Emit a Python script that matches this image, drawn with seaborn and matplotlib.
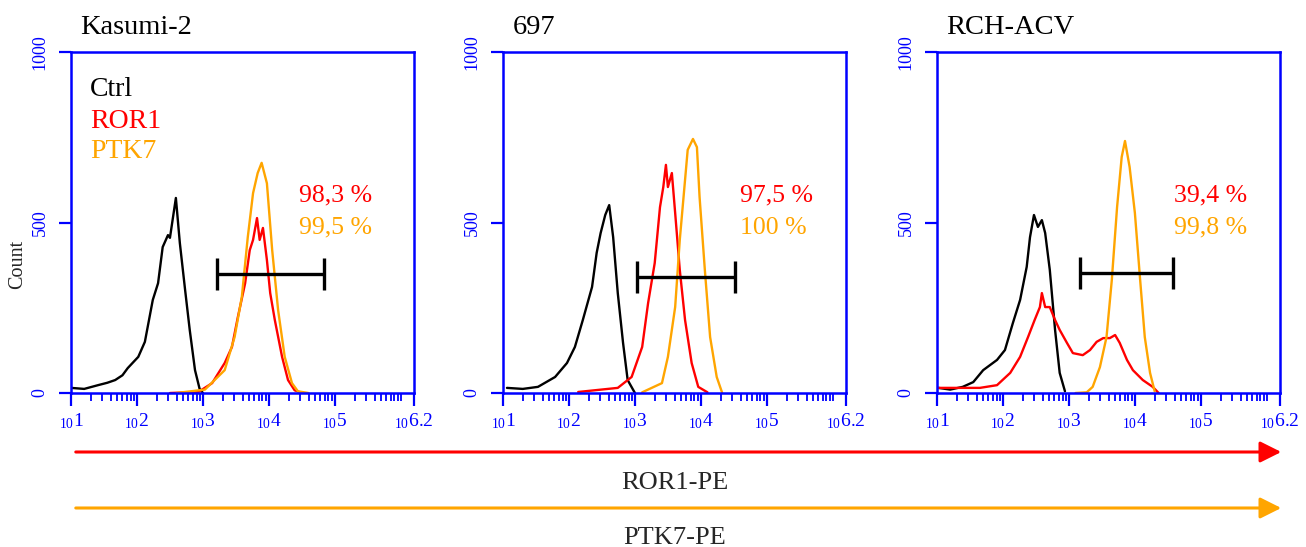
import numpy as np
import pandas as pd
import matplotlib
matplotlib.use("Agg")
import matplotlib.pyplot as plt
import matplotlib.patches as mpatches
import seaborn as sns

# ---------------- data (x as log10 fluorescence, y as count) ----------------
panel_titles = ["Kasumi-2", "697", "RCH-ACV"]
series_names = ["Ctrl", "ROR1", "PTK7"]

# Kasumi-2
k2_ctrl_logx = [1.0, 1.2, 1.41, 1.55, 1.67, 1.78, 1.86, 2.02, 2.12, 2.24, 2.32, 2.39, 2.47, 2.50, 2.55, 2.59, 2.65, 2.73, 2.80, 2.88, 2.95, 3.0]
k2_ctrl_cnt  = [15, 12, 23, 30, 38, 52, 73, 106, 150, 273, 322, 428, 463, 455, 520, 572, 440, 302, 185, 67, 12, 0]
k2_ror1_logx = [2.5, 2.93, 3.14, 3.33, 3.44, 3.53, 3.64, 3.71, 3.76, 3.82, 3.86, 3.91, 3.97, 4.02, 4.09, 4.20, 4.29, 4.39, 4.5]
k2_ror1_cnt  = [0, 3, 29, 88, 135, 223, 322, 419, 449, 513, 449, 484, 390, 293, 214, 106, 38, 8, 0]
k2_ptk7_logx = [2.6, 3.03, 3.33, 3.48, 3.59, 3.68, 3.76, 3.83, 3.89, 3.97, 4.05, 4.14, 4.24, 4.35, 4.44, 4.6]
k2_ptk7_cnt  = [0, 10, 67, 164, 282, 457, 586, 645, 675, 615, 419, 243, 106, 29, 5, 0]

# 697
p697_ctrl_logx = [1.06, 1.3, 1.53, 1.79, 1.97, 2.09, 2.21, 2.35, 2.42, 2.48, 2.55, 2.61, 2.67, 2.74, 2.82, 2.89, 3.0]
p697_ctrl_cnt  = [15, 12, 18, 47, 88, 135, 214, 311, 411, 469, 522, 551, 457, 293, 147, 38, 0]
p697_ror1_logx = [2.14, 2.74, 2.95, 3.11, 3.20, 3.30, 3.38, 3.43, 3.47, 3.50, 3.56, 3.61, 3.68, 3.76, 3.86, 3.96, 4.1]
p697_ror1_cnt  = [3, 15, 47, 135, 264, 381, 545, 604, 669, 604, 645, 528, 361, 214, 88, 18, 2]
p697_ptk7_logx = [3.11, 3.41, 3.50, 3.61, 3.68, 3.76, 3.80, 3.88, 3.94, 3.98, 4.06, 4.14, 4.24, 4.32]
p697_ptk7_cnt  = [2, 29, 106, 252, 449, 625, 713, 745, 721, 575, 361, 164, 47, 2]

# RCH-ACV
rch_ctrl_logx = [1.02, 1.2, 1.39, 1.55, 1.70, 1.91, 2.03, 2.15, 2.26, 2.36, 2.41, 2.47, 2.53, 2.59, 2.64, 2.71, 2.79, 2.86, 2.94]
rch_ctrl_cnt  = [15, 10, 18, 32, 67, 97, 126, 205, 273, 370, 457, 522, 487, 507, 469, 361, 185, 59, 5]
rch_ror1_logx = [1.02, 1.65, 1.91, 2.11, 2.26, 2.38, 2.48, 2.56, 2.59, 2.64, 2.71, 2.79, 2.86, 2.97, 3.06, 3.21, 3.32, 3.42, 3.52, 3.62, 3.70, 3.77, 3.88, 3.97, 4.12, 4.27, 4.36]
rch_ror1_cnt  = [15, 15, 23, 59, 106, 164, 214, 252, 293, 252, 252, 214, 185, 147, 117, 111, 126, 150, 161, 161, 170, 147, 97, 67, 38, 18, 0]
rch_ptk7_logx = [3.1, 3.27, 3.36, 3.47, 3.57, 3.65, 3.73, 3.80, 3.85, 3.92, 4.00, 4.08, 4.15, 4.23, 4.30]
rch_ptk7_cnt  = [0, 2, 18, 76, 164, 331, 545, 692, 739, 663, 528, 331, 164, 59, 5]

# gates (log10 limits, count level) and percentages
gate_lo = [3.21, 3.03, 3.17]
gate_hi = [4.83, 4.52, 4.58]
gate_level = [349, 340, 352]
gate_cap = 47
pct_ror1 = ["98,3 %", "97,5 %", "39,4 %"]
pct_ptk7 = ["99,5 %", "100 %", "99,8 %"]

xtick_exp = [1, 2, 3, 4, 5, 6.2]
ytick_vals = [0, 500, 1000]

panels = [
    [(k2_ctrl_logx, k2_ctrl_cnt), (k2_ror1_logx, k2_ror1_cnt), (k2_ptk7_logx, k2_ptk7_cnt)],
    [(p697_ctrl_logx, p697_ctrl_cnt), (p697_ror1_logx, p697_ror1_cnt), (p697_ptk7_logx, p697_ptk7_cnt)],
    [(rch_ctrl_logx, rch_ctrl_cnt), (rch_ror1_logx, rch_ror1_cnt), (rch_ptk7_logx, rch_ptk7_cnt)],
]

# ---------------- style ----------------
sns.set_theme(style="white")
plt.rcParams["font.family"] = ["Liberation Serif", "DejaVu Serif"]
plt.rcParams["mathtext.fontset"] = "custom"
plt.rcParams["mathtext.rm"] = "Liberation Serif"
plt.rcParams["mathtext.it"] = "Liberation Serif:italic"
plt.rcParams["mathtext.bf"] = "Liberation Serif:bold"

BLUE = "#0000ff"
RED = "#ff0000"
ORANGE = "#ffa500"
colors = {"Ctrl": "black", "ROR1": RED, "PTK7": ORANGE}

fig = plt.figure(figsize=(13.06, 5.47), dpi=100)
W, H = 1306, 547
lefts = [71, 503, 937]
ax_w, top_px, bot_px = 343, 52, 393

for i, left in enumerate(lefts):
    ax = fig.add_axes([left / W, (H - bot_px) / H, ax_w / W, (bot_px - top_px) / H])
    for name, (lx, cnt) in zip(series_names, panels[i]):
        df = pd.DataFrame({"x": np.power(10.0, lx), "count": cnt})
        sns.lineplot(data=df, x="x", y="count", color=colors[name], lw=1.7,
                     ax=ax, sort=False, estimator=None)
    ax.set_xscale("log")
    ax.set_xlim(10 ** xtick_exp[0], 10 ** xtick_exp[-1])
    ax.set_ylim(ytick_vals[0], ytick_vals[-1])
    ax.set_xlabel("")
    ax.set_ylabel("")

    # ticks
    ax.set_xticks([10 ** e for e in xtick_exp])
    ax.set_xticklabels([r"$\mathregular{_{10}}$" + ("%g" % e) for e in xtick_exp],
                       fontsize=14, color=BLUE)
    minors = [k * 10 ** d for d in range(1, 6) for k in range(2, 10)] + [10 ** 6]
    ax.set_xticks(minors, minor=True)
    ax.set_xticklabels([], minor=True)
    ax.set_yticks(ytick_vals)
    ax.set_yticklabels([str(v) for v in ytick_vals], rotation=90, va="center",
                       fontsize=13, color=BLUE)
    ax.tick_params(axis="both", which="major", direction="out", length=9, width=1.6,
                   color=BLUE, bottom=True, left=True, pad=4)
    ax.tick_params(axis="x", which="minor", direction="out", length=6, width=1.3,
                   color=BLUE, bottom=True)
    ax.tick_params(axis="y", which="major", pad=7)
    for s in ax.spines.values():
        s.set_color(BLUE)
        s.set_linewidth(1.8)
        s.set_visible(True)

    # gate
    g_lo, g_hi, g_y = 10 ** gate_lo[i], 10 ** gate_hi[i], gate_level[i]
    ax.hlines(g_y, g_lo, g_hi, color="black", lw=2.4)
    ax.vlines([g_lo, g_hi], g_y - gate_cap, g_y + gate_cap, color="black", lw=2.4)

    # percentages
    xp = 0.665 if i == 0 else 0.69
    ax.text(xp, 0.58, pct_ror1[i], color=RED, fontsize=18.5, transform=ax.transAxes,
            ha="left", va="center")
    ax.text(xp, 0.485, pct_ptk7[i], color=ORANGE, fontsize=18.5, transform=ax.transAxes,
            ha="left", va="center")

    # titles
    ax.text(0.028, 1.035, panel_titles[i], fontsize=20.5, transform=ax.transAxes,
            ha="left", va="bottom", color="black")

    if i == 0:
        ax.text(-0.155, 0.378, "Count", rotation=90, fontsize=14.5, ha="center",
                va="center", transform=ax.transAxes)
        for name, yy in zip(series_names, [0.889, 0.795, 0.707]):
            ax.text(0.055, yy, name, color=colors[name], fontsize=20,
                    transform=ax.transAxes, ha="left", va="center")

# bottom arrows and labels
for y_px, col, label, ly in [(452, RED, "ROR1-PE", 483), (508, ORANGE, "PTK7-PE", 538)]:
    fig.add_artist(mpatches.FancyArrowPatch(
        (73 / W, (H - y_px) / H), (1284 / W, (H - y_px) / H),
        transform=fig.transFigure, arrowstyle="-|>", mutation_scale=32,
        color=col, lw=2.2))
    fig.text(675 / W, (H - ly) / H, label, fontsize=19, ha="center", va="center")

fig.savefig("out.png", dpi=100)
